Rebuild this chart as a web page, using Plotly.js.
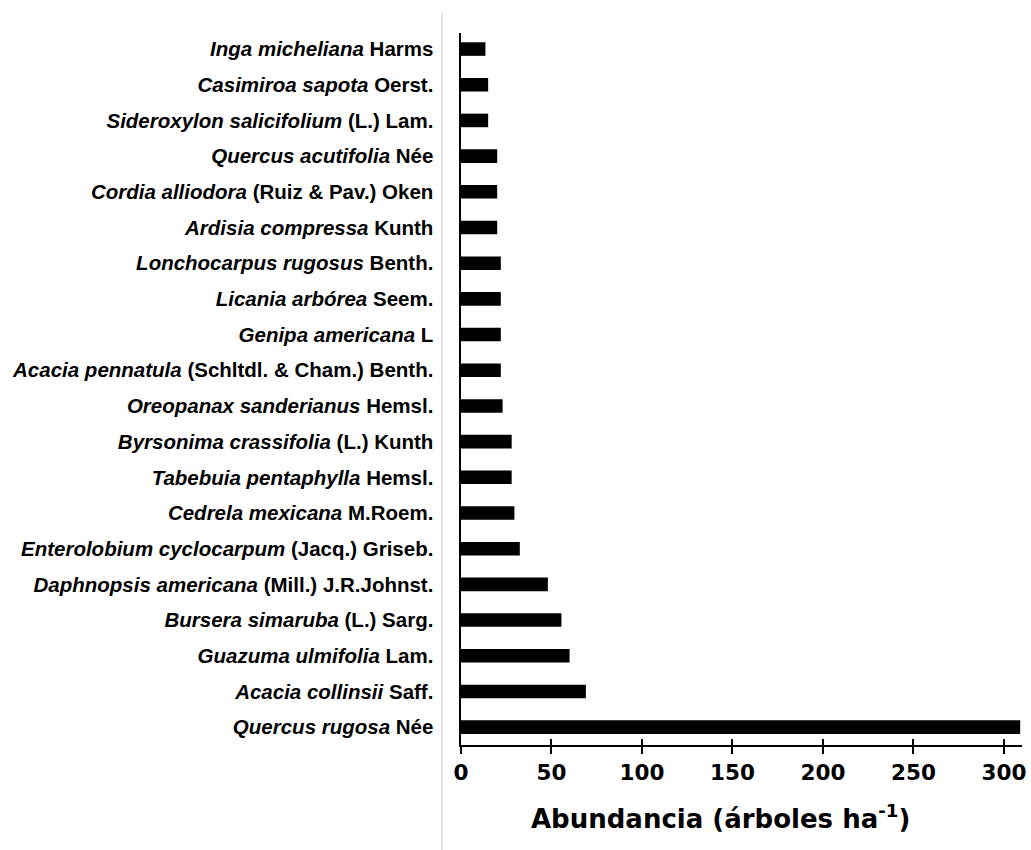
<!DOCTYPE html>
<html>
<head>
<meta charset="utf-8">
<script src="https://cdn.plot.ly/plotly-3.0.1.min.js"></script>
<style>html,body{margin:0;padding:0;background:#fff;}#chart{width:1031px;height:850px;}</style>
</head>
<body>
<div id="chart"></div>
<script>
// Species (italic part), authorities, abundance (trees per ha), bottom to top
const species = [
  "Quercus rugosa", "Acacia collinsii", "Guazuma ulmifolia", "Bursera simaruba",
  "Daphnopsis americana", "Enterolobium cyclocarpum", "Cedrela mexicana",
  "Tabebuia pentaphylla", "Byrsonima crassifolia", "Oreopanax sanderianus",
  "Acacia pennatula", "Genipa americana", "Licania arbórea", "Lonchocarpus rugosus",
  "Ardisia compressa", "Cordia alliodora", "Quercus acutifolia",
  "Sideroxylon salicifolium", "Casimiroa sapota", "Inga micheliana"
];
const authors = [
  "Née", "Saff.", "Lam.", "(L.) Sarg.",
  "(Mill.) J.R.Johnst.", "(Jacq.) Griseb.", "M.Roem.",
  "Hemsl.", "(L.) Kunth", "Hemsl.",
  "(Schltdl. & Cham.) Benth.", "L", "Seem.", "Benth.",
  "Kunth", "(Ruiz & Pav.) Oken", "Née",
  "(L.) Lam.", "Oerst.", "Harms"
];
const abundance = [309, 69, 60, 55.5, 48, 32.5, 29.5, 28, 28, 23, 22, 22, 22, 22, 20, 20, 20, 15, 15, 13.5];
const xTicks = [0, 50, 100, 150, 200, 250, 300];
const xTitle = "Abundancia (árboles ha<sup>-1</sup>)";

const labels = species.map((s, i) => "<i>" + s + "</i> " + authors[i]);
const idx = species.map((_, i) => i);

const trace = {
  type: "bar",
  orientation: "h",
  x: abundance,
  y: idx,
  marker: {color: "#000000", line: {width: 0}},
  width: 0.38,
  hoverinfo: "x+y"
};

const layout = {
  width: 1031, height: 850,
  margin: {l: 461, r: 9, t: 33, b: 105},
  paper_bgcolor: "#ffffff", plot_bgcolor: "#ffffff",
  showlegend: false,
  xaxis: {
    range: [0, 310],
    tickvals: xTicks,
    ticktext: xTicks.map(String),
    ticks: "outside", ticklen: 7, tickwidth: 2, tickcolor: "#000",
    showline: true, linewidth: 2, linecolor: "#000",
    showgrid: false, zeroline: false,
    tickfont: {family: "DejaVu Sans", size: 21.5, color: "#000", weight: "bold"},
    fixedrange: true
  },
  xaxis2: {
    overlaying: "x", matches: "x", side: "bottom", anchor: "y",
    range: [0, 310], tickvals: xTicks, showticklabels: false,
    ticks: "inside", ticklen: 6, tickwidth: 2, tickcolor: "#000",
    showline: false, showgrid: false, zeroline: false
  },
  yaxis: {
    range: [-0.5, 19.45],
    tickvals: idx,
    ticktext: labels,
    ticks: "", ticklabelstandoff: 21,
    showline: true, linewidth: 2.5, linecolor: "#000",
    showgrid: false, zeroline: false,
    tickfont: {family: "Liberation Sans", size: 20.5, color: "#000", weight: "bold"},
    fixedrange: true
  },
  annotations: [{
    text: xTitle, xref: "paper", yref: "paper",
    x: 0.462, y: -0.101, xanchor: "center", yanchor: "middle", showarrow: false,
    font: {family: "DejaVu Sans", size: 26, color: "#000", weight: "bold"}
  }],
  shapes: [{
    type: "line", xref: "paper", yref: "paper",
    x0: -0.034, x1: -0.034, y0: 1.028, y1: -0.148,
    line: {color: "#c8c8c8", width: 1}
  }]
};

const dummy = {type: "scatter", x: [0], y: [0], xaxis: "x2", yaxis: "y", mode: "markers",
  marker: {opacity: 0}, hoverinfo: "skip", showlegend: false};

Plotly.newPlot("chart", [trace, dummy], layout, {displayModeBar: false, staticPlot: true});
</script>
</body>
</html>
